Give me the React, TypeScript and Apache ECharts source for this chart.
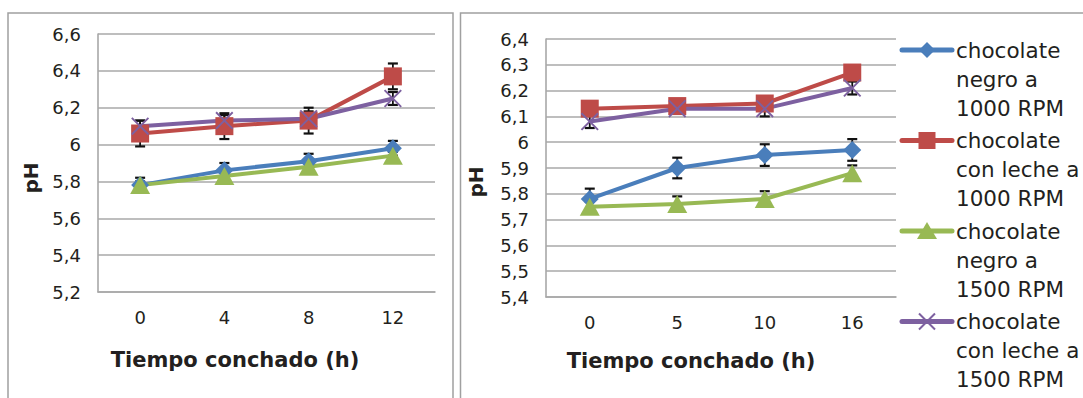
import React, { useEffect, useRef } from 'react';
import * as echarts from 'echarts';

// ---------- data ----------
const leftCategories = ['0', '4', '8', '12'];
const rightCategories = ['0', '5', '10', '16'];

const seriesNames = [
  'chocolate\nnegro a\n1000 RPM',
  'chocolate\ncon leche a\n1000 RPM',
  'chocolate\nnegro a\n1500 RPM',
  'chocolate\ncon leche a\n1500 RPM',
];

// left chart values (pH)
const leftNegro1000 = [5.78, 5.86, 5.91, 5.98];
const leftLeche1000 = [6.06, 6.1, 6.13, 6.37];
const leftNegro1500 = [5.78, 5.83, 5.88, 5.94];
const leftLeche1500 = [6.1, 6.13, 6.14, 6.25];
// left chart error (±)
const leftErrNegro1000 = [0.04, 0.04, 0.04, 0.04];
const leftErrLeche1000 = [0.07, 0.07, 0.07, 0.07];
const leftErrNegro1500 = [0.02, 0.02, 0.02, 0.02];
const leftErrLeche1500 = [0.03, 0.03, 0.04, 0.035];

// right chart values (pH)
const rightNegro1000 = [5.78, 5.9, 5.95, 5.97];
const rightLeche1000 = [6.13, 6.14, 6.15, 6.27];
const rightNegro1500 = [5.75, 5.76, 5.78, 5.88];
const rightLeche1500 = [6.08, 6.13, 6.13, 6.21];
// right chart error (±)
const rightErrNegro1000 = [0.04, 0.04, 0.042, 0.042];
const rightErrLeche1000 = [0.01, 0.01, 0.01, 0.01];
const rightErrNegro1500 = [0.02, 0.03, 0.03, 0.03];
const rightErrLeche1500 = [0.025, 0.02, 0.03, 0.025];

const leftYMin = 5.2;
const leftYMax = 6.6;
const leftYStep = 0.2;
const rightYMin = 5.4;
const rightYMax = 6.4;
const rightYStep = 0.1;

const xTitle = 'Tiempo conchado (h)';
const yTitle = 'pH';

// ---------- styling ----------
const colors = ['#4A7EBB', '#BE4B48', '#98B954', '#7D60A0'];
const FONT = '"DejaVu Sans", sans-serif';
const TXT = '#231f20';
const GRIDC = '#a8a8a8';
const X_PATH = 'path://M0,1.5L1.5,0L20,18.5L18.5,20Z M18.5,0L20,1.5L1.5,20L0,18.5Z';
const symbols = ['diamond', 'rect', 'triangle', X_PATH];
const symbolSizes: any[] = [[18, 18], [18, 18], [20, 18], [18, 18]];

const fmt = (v: number) => String(Math.round(v * 10) / 10).replace('.', ',');

function lineSeries(idx: number, values: number[], axis: number) {
  return {
    type: 'line',
    name: seriesNames[idx],
    xAxisIndex: axis,
    yAxisIndex: axis,
    data: values,
    symbol: symbols[idx],
    symbolSize: symbolSizes[idx],
    showSymbol: true,
    lineStyle: { color: colors[idx], width: 4 },
    itemStyle: { color: colors[idx] },
    z: 3,
    silent: true,
  };
}

function errorSeries(values: number[], errs: number[], axis: number) {
  return {
    type: 'custom',
    xAxisIndex: axis,
    yAxisIndex: axis,
    z: 1,
    silent: true,
    data: values.map((v, i) => [i, v - errs[i], v + errs[i]]),
    renderItem: (_p: any, api: any) => {
      const x = api.value(0);
      const lo = api.coord([x, api.value(1)]);
      const hi = api.coord([x, api.value(2)]);
      const w = 5;
      const st = { stroke: '#111', lineWidth: 1.8 };
      return {
        type: 'group',
        children: [
          { type: 'line', shape: { x1: lo[0], y1: lo[1], x2: hi[0], y2: hi[1] }, style: st },
          { type: 'line', shape: { x1: lo[0] - w, y1: lo[1], x2: lo[0] + w, y2: lo[1] }, style: { ...st, lineWidth: 2.2 } },
          { type: 'line', shape: { x1: hi[0] - w, y1: hi[1], x2: hi[0] + w, y2: hi[1] }, style: { ...st, lineWidth: 2.2 } },
        ],
      };
    },
  };
}

function xAxis(cats: string[], grid: number) {
  return {
    type: 'category',
    gridIndex: grid,
    data: cats,
    boundaryGap: true,
    axisLine: { show: true, lineStyle: { color: GRIDC, width: 1.6 } },
    axisTick: { show: false },
    axisLabel: { color: TXT, fontFamily: FONT, fontSize: 18, margin: 16 },
    splitLine: { show: false },
  };
}

function yAxis(min: number, max: number, step: number, grid: number) {
  return {
    type: 'value',
    gridIndex: grid,
    min,
    max,
    interval: step,
    axisLine: { show: true, lineStyle: { color: GRIDC, width: 1.6 } },
    axisTick: { show: false },
    axisLabel: { color: TXT, fontFamily: FONT, fontSize: 18, margin: 17, formatter: fmt },
    splitLine: { show: true, lineStyle: { color: GRIDC, width: 1.6 } },
  };
}

function textEl(text: string, x: number, y: number, size: number, bold: boolean, rotation = 0) {
  return {
    type: 'text',
    x,
    y,
    rotation,
    silent: true,
    style: {
      text,
      fill: TXT,
      fontFamily: FONT,
      fontSize: size,
      fontWeight: bold ? 'bold' : 'normal',
      align: 'center',
      verticalAlign: 'middle',
      textAlign: 'center',
      textVerticalAlign: 'middle',
    },
  };
}

function legendMarker(idx: number, cx: number, cy: number) {
  const c = colors[idx];
  if (idx === 0)
    return { type: 'polygon', shape: { points: [[cx, cy - 8], [cx + 8, cy], [cx, cy + 8], [cx - 8, cy]] }, style: { fill: c } };
  if (idx === 1) return { type: 'rect', shape: { x: cx - 8.5, y: cy - 8.5, width: 17, height: 17 }, style: { fill: c } };
  if (idx === 2)
    return { type: 'polygon', shape: { points: [[cx, cy - 9], [cx + 10, cy + 8], [cx - 10, cy + 8]] }, style: { fill: c } };
  return {
    type: 'group',
    children: [
      { type: 'line', shape: { x1: cx - 8, y1: cy - 8, x2: cx + 8, y2: cy + 8 }, style: { stroke: c, lineWidth: 2 } },
      { type: 'line', shape: { x1: cx + 8, y1: cy - 8, x2: cx - 8, y2: cy + 8 }, style: { stroke: c, lineWidth: 2 } },
    ],
  };
}

function legendItems() {
  const els: any[] = [];
  seriesNames.forEach((name, i) => {
    const y = 50 + i * 90.5;
    els.push({ type: 'line', silent: true, shape: { x1: 902, y1: y, x2: 952, y2: y }, style: { stroke: colors[i], lineWidth: 5, lineCap: 'round' } });
    els.push({ ...legendMarker(i, 927, y), silent: true });
    els.push({
      type: 'text',
      x: 956,
      y: y - 14.5,
      silent: true,
      style: {
        text: name,
        fill: TXT,
        fontFamily: FONT,
        fontSize: 21.5,
        lineHeight: 29,
        align: 'left',
        verticalAlign: 'top',
        textAlign: 'left',
        textVerticalAlign: 'top',
      },
    });
  });
  return els;
}

export default function App() {
  const ref = useRef<HTMLDivElement>(null);
  useEffect(() => {
    const chart = echarts.init(ref.current!, null, { renderer: 'svg' });
    const option: any = {
      animation: false,
      backgroundColor: '#ffffff',
      grid: [
        { left: 98, top: 34, width: 337, height: 258, containLabel: false },
        { left: 546, top: 39, width: 350, height: 258, containLabel: false },
      ],
      xAxis: [xAxis(leftCategories, 0), xAxis(rightCategories, 1)],
      yAxis: [yAxis(leftYMin, leftYMax, leftYStep, 0), yAxis(rightYMin, rightYMax, rightYStep, 1)],
      series: [
        errorSeries(leftNegro1000, leftErrNegro1000, 0),
        errorSeries(leftLeche1000, leftErrLeche1000, 0),
        errorSeries(leftNegro1500, leftErrNegro1500, 0),
        errorSeries(leftLeche1500, leftErrLeche1500, 0),
        lineSeries(0, leftNegro1000, 0),
        lineSeries(1, leftLeche1000, 0),
        lineSeries(2, leftNegro1500, 0),
        lineSeries(3, leftLeche1500, 0),
        errorSeries(rightNegro1000, rightErrNegro1000, 1),
        errorSeries(rightLeche1000, rightErrLeche1000, 1),
        errorSeries(rightNegro1500, rightErrNegro1500, 1),
        errorSeries(rightLeche1500, rightErrLeche1500, 1),
        lineSeries(0, rightNegro1000, 1),
        lineSeries(1, rightLeche1000, 1),
        lineSeries(2, rightNegro1500, 1),
        lineSeries(3, rightLeche1500, 1),
      ],
      graphic: [
        { type: 'rect', silent: true, z: -10, shape: { x: 8, y: 13, width: 445, height: 420 }, style: { fill: 'none', stroke: '#a0a0a0', lineWidth: 1.5 } },
        { type: 'rect', silent: true, z: -10, shape: { x: 460.5, y: 13, width: 640, height: 420 }, style: { fill: 'none', stroke: '#a0a0a0', lineWidth: 1.5 } },
        textEl(xTitle, 235, 360, 21, true),
        textEl(xTitle, 691, 361, 21, true),
        textEl(yTitle, 31, 178, 20, true, Math.PI / 2),
        textEl(yTitle, 476, 182, 20, true, Math.PI / 2),
        ...legendItems(),
      ],
    };
    chart.setOption(option);
    return () => chart.dispose();
  }, []);
  return (
    <div
      ref={ref}
      style={{ position: 'fixed', left: 0, top: 0, width: 1083, height: 398, background: '#fff' }}
    />
  );
}
